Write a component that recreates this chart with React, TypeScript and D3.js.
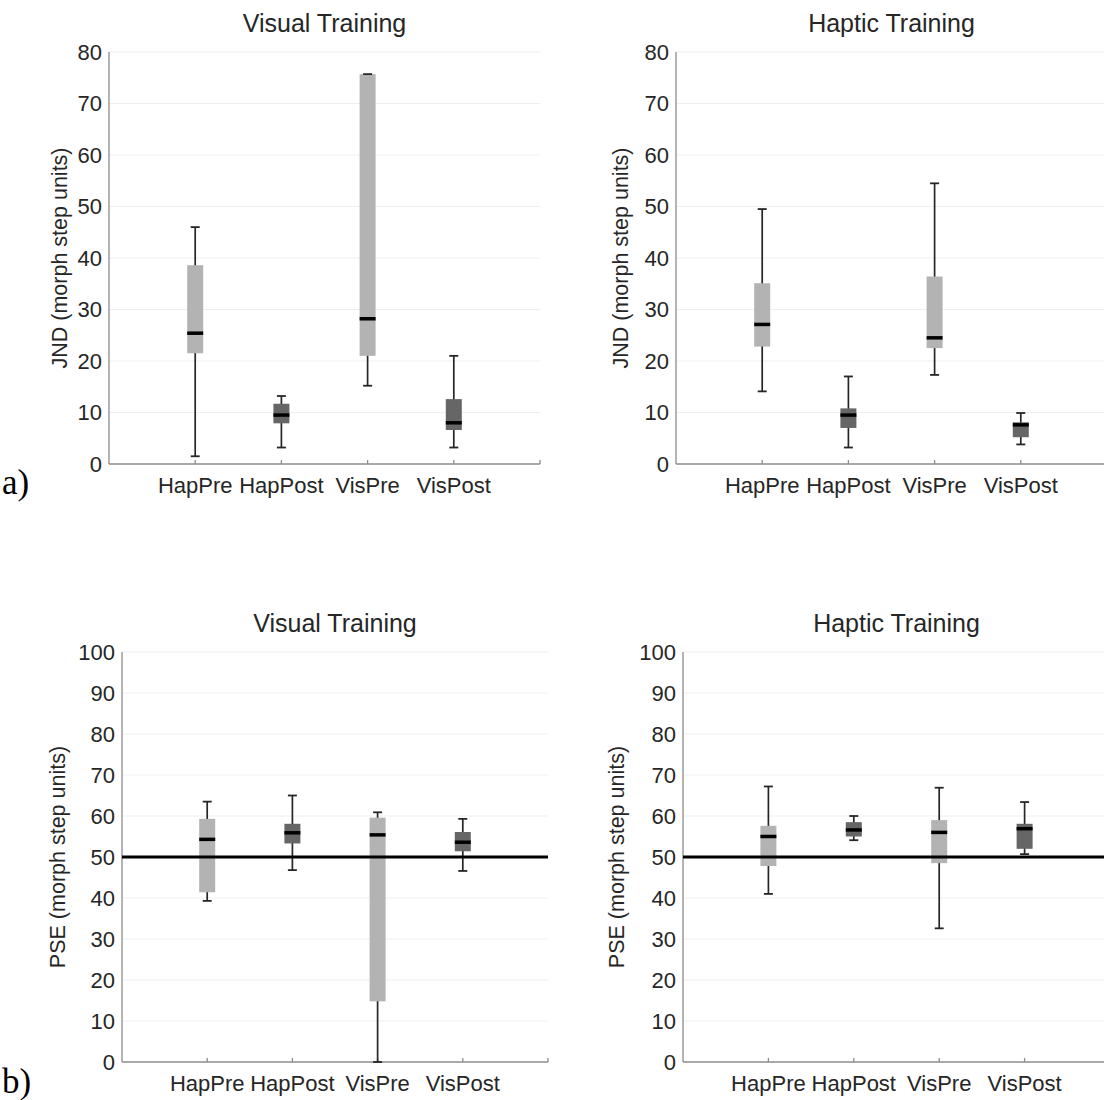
import * as d3 from 'd3';
import React, { FC } from 'react';

// groups on the x axis
const categories = ['HapPre', 'HapPost', 'VisPre', 'VisPost'];

// five-number summaries per group: [lower whisker, q1, median, q3, upper whisker]
const jndVisualTraining = [
  [1.5, 21.5, 25.4, 38.6, 46.0],
  [3.2, 7.9, 9.5, 11.7, 13.2],
  [15.2, 21.0, 28.2, 75.7, 75.7],
  [3.2, 6.6, 8.0, 12.6, 21.0]
];
const jndHapticTraining = [
  [14.1, 22.8, 27.1, 35.1, 49.5],
  [3.2, 7.0, 9.5, 10.8, 17.0],
  [17.3, 22.5, 24.5, 36.4, 54.5],
  [3.8, 5.2, 7.6, 8.1, 9.9]
];
const pseVisualTraining = [
  [39.3, 41.4, 54.3, 59.3, 63.5],
  [46.8, 53.3, 55.9, 58.1, 65.0],
  [0, 14.8, 55.4, 59.6, 60.9],
  [46.6, 51.4, 53.6, 56.1, 59.3]
];
const pseHapticTraining = [
  [41.0, 47.8, 55.0, 57.6, 67.2],
  [54.1, 55.0, 56.6, 58.5, 60.0],
  [32.6, 48.5, 56.0, 59.0, 66.9],
  [50.7, 52.0, 56.9, 58.1, 63.4]
];

const jndTicks = [0, 10, 20, 30, 40, 50, 60, 70, 80];
const pseTicks = [0, 10, 20, 30, 40, 50, 60, 70, 80, 90, 100];
const pseReference = 50;

const FONT = '"Liberation Sans", Arial, Helvetica, sans-serif';
const SERIF = '"Liberation Serif", "Times New Roman", serif';
const TEXT = '#262626';
const LIGHT = '#b3b3b3';
const DARK = '#666666';

interface PanelProps {
  title: string;
  yLabel: string;
  data: number[][];
  ticks: number[];
  left: number;
  right: number;
  top: number;
  bottom: number;
  labelX: number;
  refLine?: number;
}

const Panel: FC<PanelProps> = ({ title, yLabel, data, ticks, left, right, top, bottom, labelX, refLine }) => {
  const x = d3.scaleLinear().domain([0, 5]).range([left, right]);
  const y = d3.scaleLinear().domain([0, ticks[ticks.length - 1]]).range([bottom, top]);
  const boxW = 16;
  const capW = 9;

  return (
    <g>
      {ticks.map((t) => (
        <g key={t}>
          {t > 0 && <line x1={left} x2={right} y1={y(t)} y2={y(t)} stroke="#efefef" strokeWidth={1} />}
          <text x={left - 7} y={y(t)} textAnchor="end" dominantBaseline="central" fontSize={22} fill={TEXT}>
            {t}
          </text>
        </g>
      ))}
      <line x1={left} x2={left} y1={top} y2={bottom} stroke="#8c8c8c" strokeWidth={1.3} />
      <line x1={left} x2={right} y1={bottom} y2={bottom} stroke="#8c8c8c" strokeWidth={1.3} />
      {[1, 2, 3, 4, 5].map((v) => (
        <line key={v} x1={x(v)} x2={x(v)} y1={bottom} y2={bottom - 4} stroke="#8c8c8c" strokeWidth={1.3} />
      ))}
      {categories.map((c, i) => (
        <text key={c} x={x(i + 1)} y={bottom + 29} textAnchor="middle" fontSize={22} fill={TEXT}>
          {c}
        </text>
      ))}
      <text x={(left + right) / 2} y={top - 20} textAnchor="middle" fontSize={25} fill={TEXT}>
        {title}
      </text>
      <text
        transform={`translate(${labelX}, ${(top + bottom) / 2}) rotate(-90)`}
        textAnchor="middle"
        dominantBaseline="central"
        fontSize={21.5}
        fill={TEXT}
      >
        {yLabel}
      </text>

      {data.map(([lo, q1, med, q3, hi], i) => {
        const cx = x(i + 1);
        const fill = categories[i].endsWith('Pre') ? LIGHT : DARK;
        return (
          <g key={categories[i]}>
            <line x1={cx} x2={cx} y1={y(lo)} y2={y(hi)} stroke={TEXT} strokeWidth={1.7} />
            <rect x={cx - boxW / 2} y={y(q3)} width={boxW} height={y(q1) - y(q3)} fill={fill} />
            <line x1={cx - boxW / 2} x2={cx + boxW / 2} y1={y(med)} y2={y(med)} stroke="#000" strokeWidth={3.5} />
            <line x1={cx - capW / 2} x2={cx + capW / 2} y1={y(lo)} y2={y(lo)} stroke={TEXT} strokeWidth={1.8} />
            <line x1={cx - capW / 2} x2={cx + capW / 2} y1={y(hi)} y2={y(hi)} stroke={TEXT} strokeWidth={1.8} />
          </g>
        );
      })}

      {refLine !== undefined && (
        <line x1={left} x2={right} y1={y(refLine)} y2={y(refLine)} stroke="#000" strokeWidth={3} />
      )}
    </g>
  );
};

const App: FC = () => {
  return (
    <div style={{ position: 'absolute', left: 0, top: 0 }}>
      <svg width={1104} height={1100} fontFamily={FONT} style={{ display: 'block', background: '#fff' }}>
        <Panel
          title="Visual Training"
          yLabel="JND (morph step units)"
          data={jndVisualTraining}
          ticks={jndTicks}
          left={109}
          right={540}
          top={52}
          bottom={464}
          labelX={60}
        />
        <Panel
          title="Haptic Training"
          yLabel="JND (morph step units)"
          data={jndHapticTraining}
          ticks={jndTicks}
          left={676}
          right={1107}
          top={52}
          bottom={464}
          labelX={621}
        />
        <Panel
          title="Visual Training"
          yLabel="PSE (morph step units)"
          data={pseVisualTraining}
          ticks={pseTicks}
          left={122}
          right={548}
          top={652}
          bottom={1062}
          labelX={58}
          refLine={pseReference}
        />
        <Panel
          title="Haptic Training"
          yLabel="PSE (morph step units)"
          data={pseHapticTraining}
          ticks={pseTicks}
          left={683}
          right={1110}
          top={652}
          bottom={1062}
          labelX={617}
          refLine={pseReference}
        />
        <text x={2} y={494} fontFamily={SERIF} fontSize={35} fill="#000">
          a)
        </text>
        <text x={2} y={1093} fontFamily={SERIF} fontSize={35} fill="#000">
          b)
        </text>
      </svg>
    </div>
  );
};

export default App;
